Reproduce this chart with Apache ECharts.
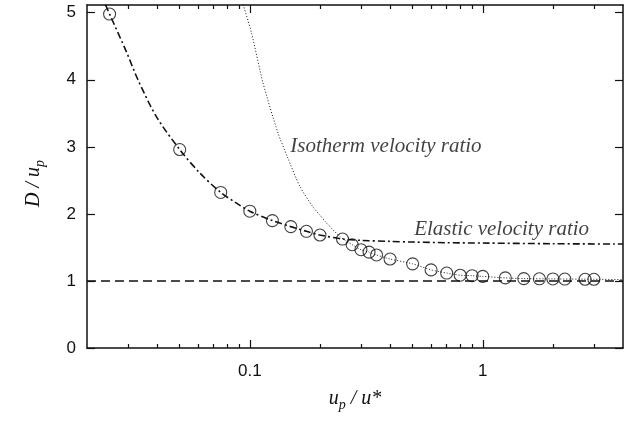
<!DOCTYPE html>
<html><head><meta charset="utf-8">
<script src="https://cdn.jsdelivr.net/npm/echarts@6/dist/echarts.min.js"></script>
<style>html,body{margin:0;padding:0;background:#fff}#c{width:633px;height:423px}</style>
</head><body><div id="c"></div>
<script>
// ---- data ----
const circleX = [0.025,0.05,0.075,0.1,0.125,0.15,0.175,0.2,0.25,0.275,0.3,0.325,0.35,0.4,0.5,0.6,0.7,0.8,0.9,1,1.25,1.5,1.75,2,2.25,2.75,3];
const circleY = [4.98,2.96,2.32,2.04,1.90,1.81,1.74,1.685,1.625,1.54,1.466,1.43,1.387,1.327,1.255,1.165,1.118,1.085,1.078,1.068,1.045,1.035,1.032,1.03,1.028,1.025,1.025];

const elasticX = [0.024,0.025,0.0295,0.0331,0.0397,0.05,0.061,0.075,0.0877,0.1,0.125,0.15,0.175,0.2,0.25,0.3,0.4,0.5,0.7,1,2,4];
const elasticY = [5.12,4.98,4.42,4.00,3.45,2.96,2.61,2.32,2.16,2.04,1.90,1.81,1.74,1.685,1.625,1.605,1.59,1.58,1.57,1.565,1.555,1.55];

const isoX = [0.0936,0.1017,0.114,0.132,0.145,0.164,0.187,0.2,0.214,0.244,0.275,0.3,0.325,0.35,0.4,0.5,0.6,0.7,0.8,0.9,1,1.25,1.5,2,3,4];
const isoY = [5.12,4.70,3.95,3.21,2.85,2.41,2.10,1.98,1.86,1.66,1.54,1.466,1.43,1.387,1.327,1.255,1.165,1.118,1.085,1.078,1.068,1.045,1.035,1.03,1.025,1.02];

const unityX = [0.02, 4];
const unityY = [1, 1];

const xMajorTicks = [0.1, 1];
const xMinorTicks = [0.03,0.04,0.05,0.06,0.07,0.08,0.09,0.2,0.3,0.4,0.5,0.6,0.7,0.8,0.9,2,3];
const yTicks = [0,1,2,3,4,5];

const annotationText = ['Isotherm velocity ratio', 'Elastic velocity ratio'];
const annotationX = [0.15, 0.51];
const annotationY = [3.0, 1.765];

const xMin = 0.02, xMax = 4, yMin = 0, yMax = 5.115;

// ---- chart ----
const zip = (a, b) => a.map((v, i) => [v, b[i]]);
const ink = '#111';
const axisLineStyle = {color: ink, width: 1.5};
const tickLineStyle = {color: ink, width: 1.2};
const serif = 'Liberation Serif';
const sans = 'Liberation Sans';

function xAx(position, ticks, len, showLine, withLabels) {
  const ax = {
    type: 'log', min: xMin, max: xMax, position: position, gridIndex: 0,
    axisLine: {show: showLine, onZero: false, lineStyle: axisLineStyle},
    axisTick: {show: true, inside: true, length: len, customValues: ticks, lineStyle: tickLineStyle},
    axisLabel: {show: false},
    splitLine: {show: false}, minorTick: {show: false}
  };
  if (withLabels) {
    ax.axisLabel = {show: true, customValues: ticks, formatter: v => String(v),
      fontFamily: sans, fontSize: 17, color: ink, margin: 15};
    ax.name = '{i|u}{s|p}{i| / u*}';
    ax.nameLocation = 'middle';
    ax.nameGap = 38;
    ax.nameTextStyle = {rich: {
      i: {fontFamily: serif, fontStyle: 'italic', fontSize: 20, color: ink},
      s: {fontFamily: serif, fontStyle: 'italic', fontSize: 14, color: ink, padding: [12, 0, 0, 0]}
    }};
  }
  return ax;
}

const option = {
  animation: false,
  backgroundColor: '#fff',
  grid: {left: 87, right: 10, top: 5, bottom: 75, containLabel: false},
  xAxis: [
    xAx('bottom', xMajorTicks, 8, true, true),
    xAx('bottom', xMinorTicks, 4, false, false),
    xAx('top', xMajorTicks, 8, true, false),
    xAx('top', xMinorTicks, 4, false, false)
  ],
  yAxis: [
    {type: 'value', min: yMin, max: yMax, position: 'left',
     axisLine: {show: true, onZero: false, lineStyle: axisLineStyle},
     axisTick: {show: true, inside: true, length: 8, customValues: yTicks, lineStyle: tickLineStyle},
     axisLabel: {customValues: yTicks, fontFamily: sans, fontSize: 17, color: ink, margin: 11},
     splitLine: {show: false},
     name: '{i|D / u}{s|p}', nameLocation: 'middle', nameGap: 40,
     nameTextStyle: {rich: {
       i: {fontFamily: serif, fontStyle: 'italic', fontSize: 20, color: ink},
       s: {fontFamily: serif, fontStyle: 'italic', fontSize: 14, color: ink, padding: [12, 14, 0, 0]}
     }}},
    {type: 'value', min: yMin, max: yMax, position: 'right',
     axisLine: {show: true, onZero: false, lineStyle: axisLineStyle},
     axisTick: {show: true, inside: true, length: 8, customValues: yTicks, lineStyle: tickLineStyle},
     axisLabel: {show: false}, splitLine: {show: false}}
  ],
  series: [
    {type: 'line', data: zip(unityX, unityY), symbol: 'none', xAxisIndex: 0, yAxisIndex: 0,
     lineStyle: {color: ink, width: 1.6, type: [9, 5]}},
    {type: 'line', data: zip(isoX, isoY), symbol: 'none', smooth: 0.25, xAxisIndex: 0, yAxisIndex: 0,
     lineStyle: {color: ink, width: 1, type: [1, 2]}},
    {type: 'line', data: zip(elasticX, elasticY), symbol: 'none', smooth: 0.3, xAxisIndex: 0, yAxisIndex: 0,
     lineStyle: {color: ink, width: 1.6, type: [7, 3, 2, 3]}},
    {type: 'scatter', data: zip(circleX, circleY), symbol: 'circle', symbolSize: 12, xAxisIndex: 0, yAxisIndex: 0,
     itemStyle: {color: 'rgba(0,0,0,0)', borderColor: ink, borderWidth: 1.1}},
    {type: 'scatter', xAxisIndex: 0, yAxisIndex: 0, symbolSize: 1,
     itemStyle: {color: 'rgba(0,0,0,0)'},
     data: annotationText.map((t, i) => ({name: t, value: [annotationX[i], annotationY[i]]})),
     label: {show: true, formatter: '{b}', position: [0, 0], align: 'left', verticalAlign: 'middle',
       fontFamily: serif, fontStyle: 'italic', fontSize: 21, color: ink}}
  ]
};
const chart = echarts.init(document.getElementById('c'), null, {renderer: 'canvas'});
chart.setOption(option);
</script>
</body></html>
